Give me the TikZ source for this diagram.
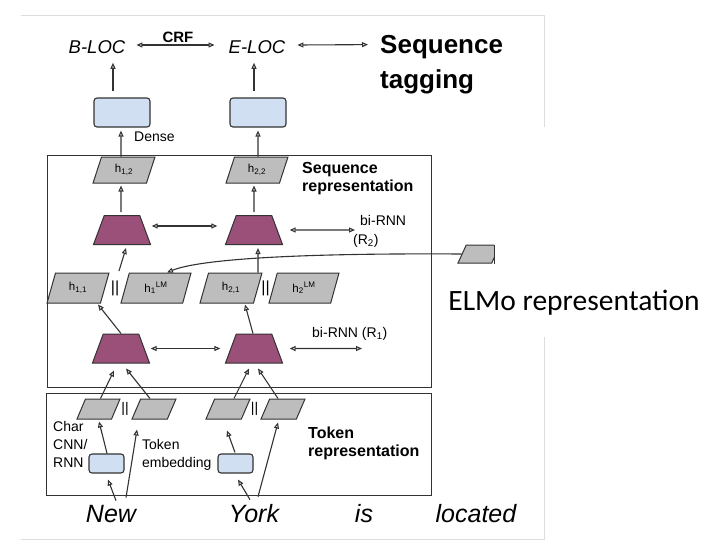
\documentclass[tikz,border=0pt]{standalone}
\usepackage{fontspec}
\setmainfont{Liberation Sans}
\newfontfamily\carl{Carlito}
\usetikzlibrary{shapes.geometric,arrows.meta,calc}
\definecolor{plum}{HTML}{9B5079}
\definecolor{dblue}{HTML}{D0E0F2}
\definecolor{pgray}{HTML}{BDBDBD}
\definecolor{ln}{HTML}{333333}
\definecolor{frm}{HTML}{DDDDDD}
\begin{document}
\begin{tikzpicture}[x=1pt,y=-1pt,
 arr/.style={draw=ln, line width=1.1pt, -{Triangle[open,length=6pt,width=5pt]}},
 darr/.style={draw=ln, line width=1.1pt, {Triangle[open,length=6pt,width=5pt]}-{Triangle[open,length=6pt,width=5pt]}},
 para/.style={trapezium, trapezium left angle=73, trapezium right angle=107, trapezium stretches=true, draw=ln, line width=1pt, fill=pgray, inner sep=0pt, font=\fontsize{11.5}{12}\selectfont},
 rnn/.style={trapezium, trapezium left angle=74, trapezium right angle=74, trapezium stretches=true, draw=ln, line width=1pt, fill=plum, minimum width=57pt, minimum height=29pt, inner sep=0pt, font=\fontsize{11}{12}\selectfont},
 dbox/.style={rectangle, rounded corners=3pt, draw=ln, line width=1.1pt, fill=dblue, inner sep=0pt},
 panel/.style={rectangle, draw=ln, line width=1.3pt, inner sep=0pt, anchor=north west},
 lbl/.style={font=\fontsize{14}{18}\selectfont, inner sep=0pt, align=left},
 blbl/.style={font=\fontsize{16}{18}\selectfont\bfseries, inner sep=0pt, align=left, anchor=north west},
 word/.style={font=\fontsize{25}{28}\selectfont\itshape, inner sep=0pt, anchor=base},
 cat/.style={font=\fontsize{16}{18}\selectfont, inner sep=0pt},
]
\fill[white] (0,0) rectangle (726,552);
\path[use as bounding box] (0,0) rectangle (726,552);
% screenshot frame
\draw[frm, line width=1pt] (21,15) -- (544,15) -- (544,127);
\draw[frm, line width=1pt] (544,337) -- (544,539) -- (21,539);

% panels
\node[panel, minimum width=384pt, minimum height=232pt] (seqp) at (47,155) {};
\node[panel, minimum width=385pt, minimum height=102pt] (tokp) at (46,393) {};

% top row
\node[font=\fontsize{18.5}{20}\selectfont\itshape, inner sep=0pt] (bloc) at (97,47) {B-LOC};
\node[font=\fontsize{18.5}{20}\selectfont\itshape, inner sep=0pt] (eloc) at (257,47) {E-LOC};
\node[font=\fontsize{15}{17}\selectfont\bfseries, inner sep=0pt] (crf) at (178,37) {CRF};
\node[font=\fontsize{26}{30}\selectfont\bfseries, inner sep=0pt, anchor=base west] (seqt) at (380,53) {Sequence};
\node[font=\fontsize{26}{30}\selectfont\bfseries, inner sep=0pt, anchor=base west] (tagt) at (380,88) {tagging};
\draw[darr] ([xshift=11pt,yshift=2pt]bloc.east) -- ([xshift=-14pt,yshift=2pt]eloc.west);
\draw[darr] ([xshift=12pt,yshift=2pt]eloc.east) -- ([xshift=-12pt,yshift=2pt]seqt.west);

% dense
\node[dbox, minimum width=56pt, minimum height=29pt] (d1) at (122,112.5) {};
\node[dbox, minimum width=56pt, minimum height=29pt] (d2) at (258,112.5) {};
\node[lbl, anchor=west] (dl) at (134,137) {Dense};
\draw[arr] ([xshift=-9pt,yshift=6pt]d1.north) -- ([xshift=16pt,yshift=-9pt]bloc.south);
\draw[arr] ([xshift=-4pt,yshift=6pt]d2.north) -- ([xshift=-3pt,yshift=-9pt]eloc.south);

% sequence representation
\node[blbl] (seqr) at (302,162) {Sequence\\representation};
\node[para, minimum width=62pt, minimum height=26pt] (h12) at (124,170) {h\textsubscript{1,2}};
\node[para, minimum width=62pt, minimum height=26pt] (h22) at (257,170) {h\textsubscript{2,2}};
\draw[arr] ([xshift=-3pt]h12.north) -- ([xshift=-1pt,yshift=-3pt]d1.south);
\draw[arr] ([xshift=1pt]h22.north) -- ([yshift=-3pt]d2.south);

\node[rnn] (r2a) at (122,230) {\phantom{x}};
\node[rnn] (r2b) at (254,230) {\phantom{x}};
\draw[arr] ([xshift=-1pt,yshift=3pt]r2a.north) -- ([xshift=-3pt,yshift=-2pt]h12.south);
\draw[arr] ([yshift=3pt]r2b.north) -- ([xshift=-3pt,yshift=-2pt]h22.south);
\draw[darr] ([xshift=6pt,yshift=4pt]r2a.east) -- ([xshift=-13pt,yshift=4pt]r2b.west);
\coordinate (c2) at (355,230);
\draw[darr] ([xshift=12pt]r2b.east) -- (c2);
\node[lbl, anchor=west] (bir2) at (360,220) {bi-RNN};
\node[lbl, anchor=west] (bir2b) at (353,241) {(R\textsubscript{2})};

% h row
\node[para, minimum width=62pt, minimum height=30pt] (h11) at (78,288) {h\textsubscript{1,1}};
\node[cat] (cc1) at (115,288) {||};
\node[para, minimum width=70pt, minimum height=30pt] (h1lm) at (156,288) {h\textsubscript{1}\textsuperscript{LM}};
\node[para, minimum width=62pt, minimum height=30pt] (h21) at (231,288) {h\textsubscript{2,1}};
\node[cat] (cc2) at (265.5,288) {||};
\node[para, minimum width=70pt, minimum height=30pt] (h2lm) at (304,288) {h\textsubscript{2}\textsuperscript{LM}};
\draw[arr] ([xshift=4pt,yshift=17pt]cc1.center) -- ([xshift=4pt,yshift=-3pt]r2a.south);
\draw[arr] ([xshift=27pt]h21.north) -- ([xshift=4pt,yshift=-3pt]r2b.south);

% ELMo small para and curve
\node[para, minimum width=42pt, minimum height=18pt] (elmo) at (479,254) {\phantom{x}};
\draw[arr] (elmo.west) .. controls (300,253) and (200,259) .. ([xshift=11pt]h1lm.north);

% R1 row
\node[rnn] (r1a) at (121,348.5) {\phantom{x}};
\node[rnn] (r1b) at (254,348.5) {\phantom{x}};
\draw[arr] (r1a.north) -- ([xshift=20pt,yshift=-1pt]h11.south);
\draw[arr] ([xshift=-1pt]r1b.north) -- ([xshift=14pt,yshift=-1pt]h21.south);
\draw[darr] ([xshift=6pt]r1a.east) -- ([xshift=-10pt]r1b.west);
\coordinate (c1) at (362,348.5);
\draw[darr] ([xshift=12pt]r1b.east) -- (c1);
\node[lbl, anchor=west] (bir1) at (312,334) {bi-RNN (R\textsubscript{1})};

% token representation
\node[blbl] (tokr) at (308,427) {Token\\representation};
\node[para, minimum width=43pt, minimum height=20pt] (tp1) at (98.5,409) {\phantom{x}};
\node[cat, font=\fontsize{14}{16}\selectfont] (cc3) at (125,409) {||};
\node[para, minimum width=44pt, minimum height=20pt] (tp2) at (154,409) {\phantom{x}};
\node[para, minimum width=44pt, minimum height=20pt] (tp3) at (228,409) {\phantom{x}};
\node[cat, font=\fontsize{14}{16}\selectfont] (cc4) at (254.5,409) {||};
\node[para, minimum width=44pt, minimum height=20pt] (tp4) at (283,409) {\phantom{x}};
\draw[arr] ([xshift=2pt]tp1.north) -- ([xshift=-7pt,yshift=-7pt]r1a.south);
\draw[arr] ([xshift=-4pt]tp2.north) -- ([xshift=5pt,yshift=-5pt]r1a.south);
\draw[arr] ([xshift=6pt]tp3.north) -- ([xshift=-5pt,yshift=-5pt]r1b.south);
\draw[arr] ([xshift=-5pt]tp4.north) -- ([xshift=4pt,yshift=-5pt]r1b.south);

\node[dbox, minimum width=35pt, minimum height=19pt] (cb1) at (106.5,463.5) {};
\node[dbox, minimum width=35pt, minimum height=19pt] (cb2) at (235.5,463.5) {};
\node[lbl, anchor=north west] (charl) at (53,421) {Char\\CNN/\\RNN};
\node[lbl, anchor=north west] (tokl) at (142,439) {Token\\embedding};
\draw[arr] ([xshift=0.5pt]cb1.north) -- ([xshift=0.5pt,yshift=-2pt]tp1.south);
\draw[arr] ([xshift=-0.5pt,yshift=1pt]cb2.north) -- ([xshift=-1pt,yshift=-11pt]tp3.south);

% words
\node[word] (new) at (111,522) {New};
\node[word] (york) at (254,522) {York};
\node[word] (is) at (364,522) {is};
\node[word] (loc) at (476,522) {located};
\draw[arr] ([xshift=5pt,yshift=4pt]new.north) -- ([xshift=1.5pt,yshift=-6pt]cb1.south);
\draw[arr] ([xshift=15pt,yshift=7pt]new.north) -- ([xshift=-17pt,yshift=-10pt]tp2.south);
\draw[arr] ([xshift=-4pt,yshift=4pt]york.north) -- ([xshift=2.5pt,yshift=-6pt]cb2.south);
\draw[arr] ([xshift=4pt,yshift=7pt]york.north) -- ([xshift=-5pt,yshift=-3pt]tp4.south);

% overlay with ELMo caption
\coordinate (cut) at (494,0);
\fill[white] (494,127) rectangle (726,337);
\draw[ln, line width=1pt] (elmo.north -| cut) -- (elmo.south -| cut);
\node[font=\carl\fontsize{29.5}{32}\selectfont, inner sep=0pt] (elmol) at (574,303) {ELMo representation};
\end{tikzpicture}
\end{document}
